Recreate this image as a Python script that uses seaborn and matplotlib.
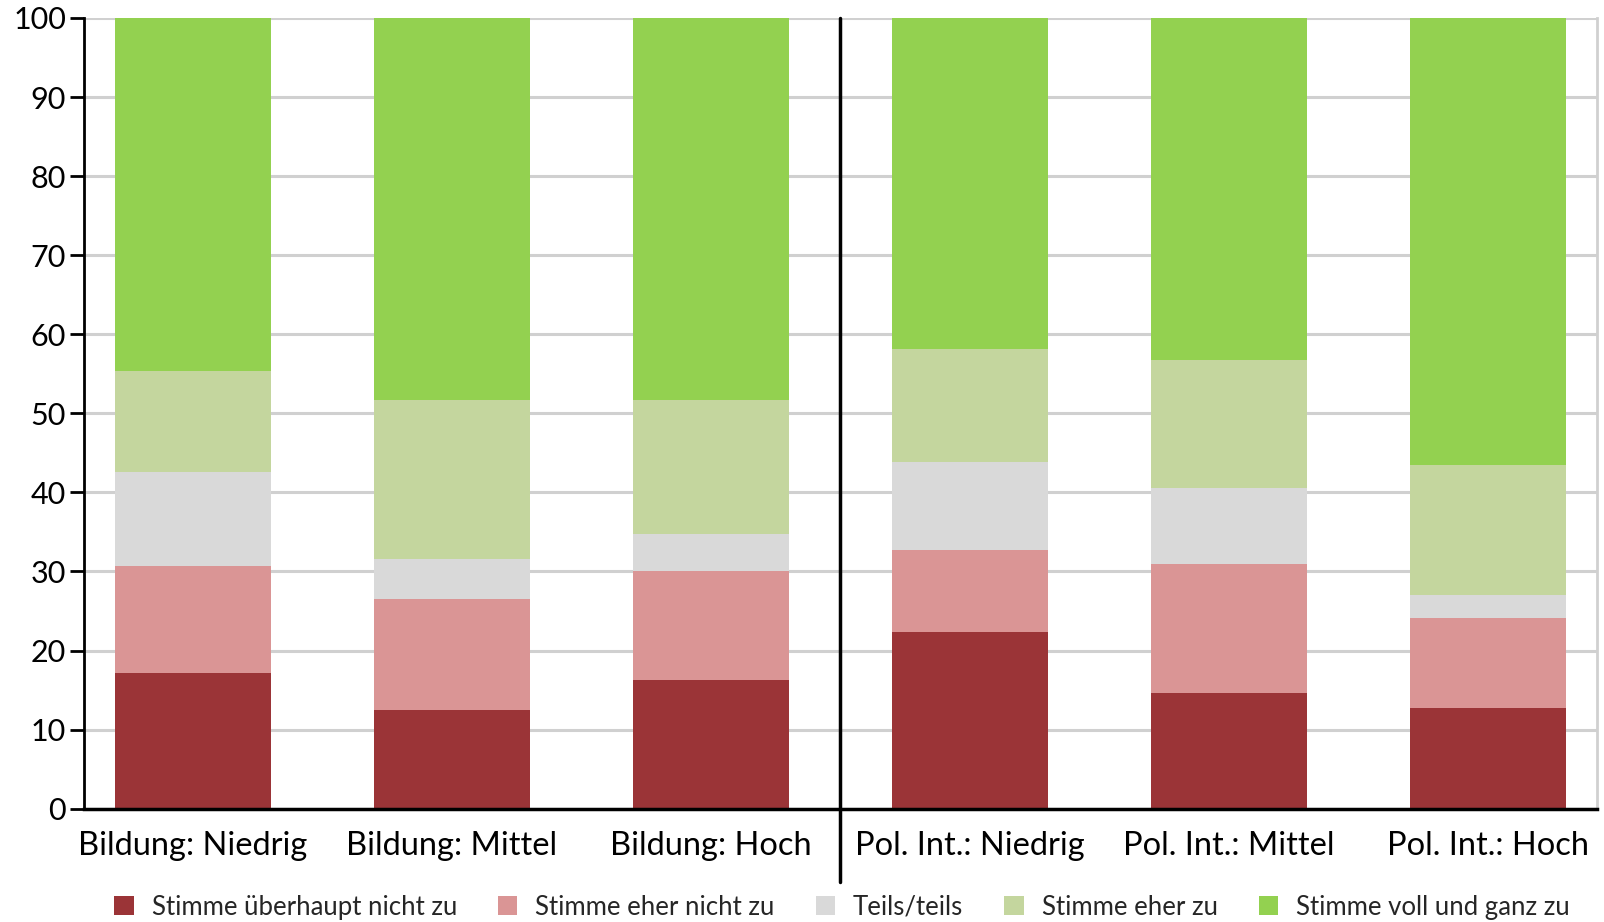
import matplotlib
matplotlib.use("Agg")
import matplotlib.pyplot as plt
import matplotlib.transforms as mtransforms
from matplotlib.patches import Patch
import seaborn as sns
import pandas as pd
import numpy as np

categories = ["Bildung: Niedrig", "Bildung: Mittel", "Bildung: Hoch",
              "Pol. Int.: Niedrig", "Pol. Int.: Mittel", "Pol. Int.: Hoch"]
series_names = ["Stimme überhaupt nicht zu", "Stimme eher nicht zu", "Teils/teils",
                "Stimme eher zu", "Stimme voll und ganz zu"]
ueberhaupt_nicht = [17.1, 12.5, 16.3, 22.4, 14.6, 12.7]
eher_nicht = [13.6, 14.0, 13.8, 10.3, 16.4, 11.4]
teils = [11.9, 5.1, 4.6, 11.2, 9.5, 2.9]
eher_zu = [12.8, 20.1, 17.0, 14.2, 16.2, 16.5]
voll_ganz = [44.6, 48.3, 48.3, 41.9, 43.3, 56.5]
colors = ["#9b3437", "#da9595", "#d9d9d9", "#c4d69e", "#93d150"]

sns.set_theme(style="white")
plt.rcParams["font.family"] = ["Lato", "DejaVu Sans"]

series = [ueberhaupt_nicht, eher_nicht, teils, eher_zu, voll_ganz]
cum = np.cumsum(np.array(series), axis=0)

fig = plt.figure(figsize=(16.04, 9.22), dpi=100)
ax = fig.add_axes([0.0524, 0.1229, 0.9432, 0.8576])

for i in reversed(range(len(series))):
    df = pd.DataFrame({"cat": categories, "val": cum[i]})
    sns.barplot(data=df, x="cat", y="val", color=colors[i], width=0.6,
                saturation=1, ax=ax, zorder=2, order=categories,
                linewidth=0, edgecolor="none")

ax.set_ylim(0, 100)
ax.set_xlim(-0.42, 5.42)
ax.set_yticks(range(0, 101, 10))
ax.set_xlabel("")
ax.set_ylabel("")
ax.yaxis.grid(True, color="#d0d0d0", linewidth=2.2, zorder=0)
ax.set_axisbelow(True)
ax.spines["top"].set_visible(False)
ax.spines["right"].set_color("#d0d0d0")
ax.spines["right"].set_linewidth(2)
ax.spines["left"].set_color("black")
ax.spines["left"].set_linewidth(2)
ax.spines["bottom"].set_color("black")
ax.spines["bottom"].set_linewidth(2.5)
ax.spines["bottom"].set_zorder(5)
ax.tick_params(axis="y", direction="out", length=10, width=2, color="black",
               labelsize=22, pad=3, left=True)
ax.tick_params(axis="x", length=0, labelsize=23.5, pad=16)
for lbl in ax.get_yticklabels() + ax.get_xticklabels():
    lbl.set_color("black")

trans = mtransforms.blended_transform_factory(ax.transData, ax.transAxes)
ax.plot([2.5, 2.5], [1.0, -0.093], color="black", linewidth=2.5,
        transform=trans, clip_on=False, zorder=6)

handles = [Patch(facecolor=c, edgecolor="none") for c in colors]
fig.legend(handles, series_names, loc="center", bbox_to_anchor=(0.525, 0.016),
           ncol=5, frameon=False, fontsize=18.5, handlelength=0.75, handleheight=0.75,
           handletextpad=0.7, columnspacing=1.6)

fig.savefig("out.png", dpi=100)
